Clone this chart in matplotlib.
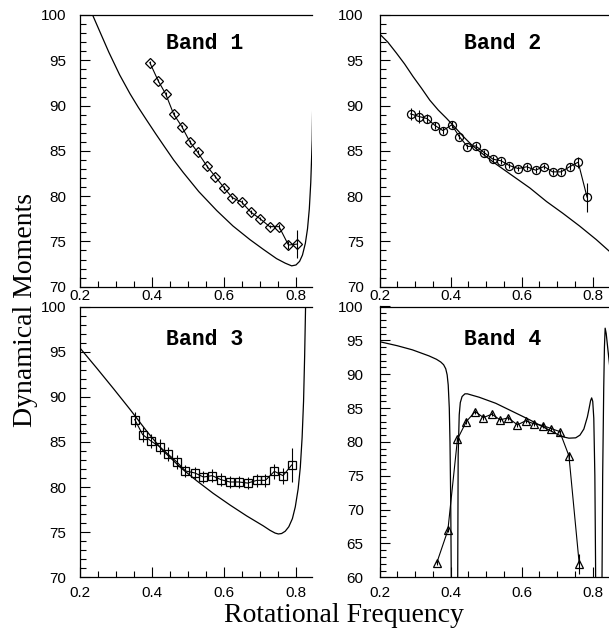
import matplotlib
matplotlib.use("Agg")
import matplotlib.pyplot as plt
from matplotlib.ticker import MultipleLocator

# Band 1 data (diamonds)
b1_x = [0.394, 0.417, 0.438, 0.460, 0.483, 0.505, 0.527, 0.553, 0.576, 0.600,
        0.623, 0.649, 0.674, 0.700, 0.727, 0.753, 0.779, 0.804]
b1_y = [94.74, 92.75, 91.28, 89.07, 87.67, 86.01, 84.84, 83.29, 82.15, 80.93,
        79.83, 79.35, 78.25, 77.51, 76.63, 76.63, 74.60, 74.71]
b1_err = [0.2, 0.2, 0.2, 0.2, 0.2, 0.2, 0.2, 0.2, 0.2, 0.2,
          0.2, 0.2, 0.2, 0.2, 0.2, 0.3, 0.4, 1.5]
b1_curve_x = [0.225, 0.235, 0.258, 0.280, 0.310, 0.339, 0.362, 0.385, 0.410, 0.434,
              0.460, 0.487, 0.530, 0.580, 0.625, 0.672, 0.710, 0.746, 0.770, 0.788,
              0.800, 0.810, 0.818, 0.826, 0.832, 0.837, 0.841, 0.845, 0.850]
b1_curve_y = [101.4, 100.0, 97.9, 95.9, 93.4, 91.3, 89.8, 88.4, 86.9, 85.5,
              84.0, 82.6, 80.5, 78.4, 76.7, 75.2, 74.1, 73.1, 72.6, 72.3,
              72.4, 72.8, 73.5, 74.8, 76.4, 78.6, 81.5, 86.2, 100.0]

# Band 2 data (circles)
b2_x = [0.287, 0.311, 0.333, 0.356, 0.378, 0.403, 0.424, 0.447, 0.470, 0.495, 0.519,
        0.542, 0.565, 0.590, 0.614, 0.639, 0.663, 0.687, 0.711, 0.736, 0.759, 0.784]
b2_y = [89.08, 88.79, 88.57, 87.79, 87.24, 87.87, 86.58, 85.48, 85.55, 84.78, 84.08,
        83.90, 83.38, 83.05, 83.24, 82.87, 83.27, 82.68, 82.68, 83.27, 83.75, 79.89]
b2_err = [0.7, 0.7, 0.5, 0.4, 0.4, 0.4, 0.3, 0.3, 0.3, 0.3, 0.3,
          0.3, 0.3, 0.3, 0.3, 0.3, 0.3, 0.3, 0.3, 0.4, 0.6, 1.6]
b2_curve_x = [0.200, 0.223, 0.247, 0.270, 0.294, 0.318, 0.341, 0.365, 0.388, 0.412,
              0.435, 0.458, 0.482, 0.529, 0.576, 0.623, 0.670, 0.716, 0.763, 0.810, 0.850]
b2_curve_y = [97.9, 97.0, 95.8, 94.6, 93.2, 91.9, 90.6, 89.5, 88.6, 87.6,
              86.6, 85.7, 84.9, 83.5, 82.2, 80.9, 79.4, 78.1, 76.7, 75.2, 73.8]

# Band 3 data (squares)
b3_x = [0.352, 0.374, 0.398, 0.421, 0.445, 0.469, 0.493, 0.519, 0.543, 0.567,
        0.592, 0.616, 0.641, 0.666, 0.691, 0.715, 0.740, 0.764, 0.788]
b3_y = [87.48, 85.81, 85.07, 84.48, 83.63, 82.78, 81.78, 81.56, 81.11, 81.26,
        80.81, 80.56, 80.56, 80.44, 80.74, 80.74, 81.74, 81.26, 82.44]
b3_err = [0.8, 0.8, 0.8, 0.8, 0.8, 0.8, 0.7, 0.7, 0.7, 0.7,
          0.7, 0.7, 0.7, 0.7, 0.7, 0.7, 0.8, 0.9, 1.9]
b3_curve_x = [0.200, 0.246, 0.293, 0.339, 0.362, 0.385, 0.408, 0.431, 0.455, 0.478,
              0.524, 0.570, 0.617, 0.663, 0.709, 0.728, 0.742, 0.751, 0.760, 0.770,
              0.780, 0.790, 0.798, 0.806, 0.812, 0.817, 0.821, 0.824, 0.828]
b3_curve_y = [95.4, 93.2, 90.9, 88.6, 87.4, 86.2, 85.1, 84.0, 83.1, 82.2,
              80.7, 79.3, 78.0, 76.8, 75.7, 75.2, 74.9, 74.8, 74.85, 75.1,
              75.6, 76.5, 77.8, 79.8, 82.2, 85.5, 89.5, 94.5, 103.0]

# Band 4 data (triangles)
b4_x = [0.361, 0.392, 0.419, 0.444, 0.469, 0.492, 0.516, 0.539, 0.562,
        0.588, 0.611, 0.635, 0.659, 0.683, 0.707, 0.733, 0.762]
b4_y = [62.17, 66.95, 80.40, 83.01, 84.48, 83.60, 84.09, 83.26, 83.55,
        82.52, 83.11, 82.67, 82.42, 81.97, 81.53, 77.94, 61.98]
b4_err = [0.3, 0.3, 0.3, 0.3, 0.3, 0.3, 0.3, 0.3, 0.3,
          0.3, 0.3, 0.3, 0.3, 0.3, 0.3, 0.4, 1.5]
b4_curve_x = [0.200, 0.250, 0.292, 0.339, 0.360, 0.372, 0.380, 0.386, 0.390, 0.393,
              0.396, 0.398, 0.400, 0.403,
              0.419, 0.421, 0.424, 0.427, 0.432, 0.440, 0.447, 0.460, 0.480, 0.527,
              0.574, 0.621, 0.668, 0.705, 0.720, 0.733, 0.752, 0.764, 0.775, 0.785,
              0.790, 0.794, 0.797, 0.800, 0.803, 0.806, 0.808, 0.809,
              0.825, 0.828, 0.831, 0.833, 0.835, 0.838, 0.842, 0.848]
b4_curve_y = [94.8, 94.2, 93.6, 92.7, 92.2, 91.8, 91.4, 90.8, 89.9, 88.4,
              85.0, 80.0, 71.4, 50.0,
              50.0, 78.0, 84.0, 85.8, 86.7, 87.1, 87.1, 86.9, 86.6, 85.7,
              84.5, 83.3, 82.0, 81.0, 80.7, 80.55, 80.6, 81.0, 81.9, 83.7,
              85.0, 86.1, 86.5, 86.0, 83.5, 75.0, 62.0, 50.0,
              50.0, 75.0, 88.0, 94.0, 96.8, 96.0, 94.0, 91.1]

bands = [
    ("Band 1", b1_x, b1_y, b1_err, b1_curve_x, b1_curve_y, "D", 4.6, (70, 100)),
    ("Band 2", b2_x, b2_y, b2_err, b2_curve_x, b2_curve_y, "o", 5.8, (70, 100)),
    ("Band 3", b3_x, b3_y, b3_err, b3_curve_x, b3_curve_y, "s", 5.2, (70, 100)),
    ("Band 4", b4_x, b4_y, b4_err, b4_curve_x, b4_curve_y, "^", 6.0, (60, 100)),
]

W, H = 609, 628
fig = plt.figure(figsize=(W / 100, H / 100), dpi=100)

# axes boxes in pixels: left, top, right, bottom
boxes = [(80, 15, 312.2, 286.7), (379.7, 15, 608.7, 286.7),
         (80, 306.5, 312.2, 577.3), (379.7, 306.5, 608.7, 577.3)]
label_y = [0.895, 0.895, 0.877, 0.877]

for i, (name, x, y, err, cx, cy, mk, ms, ylim) in enumerate(bands):
    l, t, r, b = boxes[i]
    ax = fig.add_axes([l / W, 1 - b / H, (r - l) / W, (b - t) / H])
    ax.plot(cx, cy, color="black", lw=0.9, zorder=2)
    ax.errorbar(x, y, yerr=err, fmt="-", color="black", lw=0.8, elinewidth=0.8,
                capsize=0, zorder=3)
    ax.plot(x, y, linestyle="none", marker=mk, ms=ms, mfc="none", mec="black",
            mew=0.9, zorder=4)
    ax.set_xlim(0.2, 0.845)
    ax.set_ylim(*ylim)
    ax.spines["right"].set_visible(False)
    for s in ["left", "bottom", "top"]:
        ax.spines[s].set_linewidth(0.9)
    ax.xaxis.set_major_locator(MultipleLocator(0.2))
    ax.xaxis.set_minor_locator(MultipleLocator(0.05))
    ax.yaxis.set_major_locator(MultipleLocator(5))
    ax.yaxis.set_minor_locator(MultipleLocator(1))
    ax.xaxis.set_major_formatter(plt.FuncFormatter(lambda v, p: f"{v:.1f}"))
    xpad = 2 if i < 2 else 6
    ypad = 10 if i % 2 == 0 else 11.5
    ax.tick_params(axis="x", which="both", direction="in", top=False, pad=xpad,
                   labelsize=11)
    ax.tick_params(axis="y", which="both", direction="in", right=False, pad=ypad,
                   labelsize=11)
    ax.tick_params(which="major", length=7, width=0.8)
    ax.tick_params(which="minor", length=4, width=0.8)
    for lab in ax.get_xticklabels() + ax.get_yticklabels():
        lab.set_family(["Liberation Sans", "DejaVu Sans"])
    ax.text(0.535, label_y[i], name, transform=ax.transAxes, ha="center",
            va="center", fontsize=15.5, fontweight="bold",
            family=["Liberation Mono", "DejaVu Sans Mono"])

fig.text(343.5 / W, 6.3 / H, "Rotational Frequency", ha="center", va="baseline",
         fontsize=20, family=["Liberation Serif", "DejaVu Serif"])
fig.text(31.7 / W, 1 - 310 / H, "Dynamical Moments", ha="center", va="baseline",
         rotation=90, rotation_mode="anchor", fontsize=20,
         family=["Liberation Serif", "DejaVu Serif"])

fig.savefig("out.png", dpi=100)
